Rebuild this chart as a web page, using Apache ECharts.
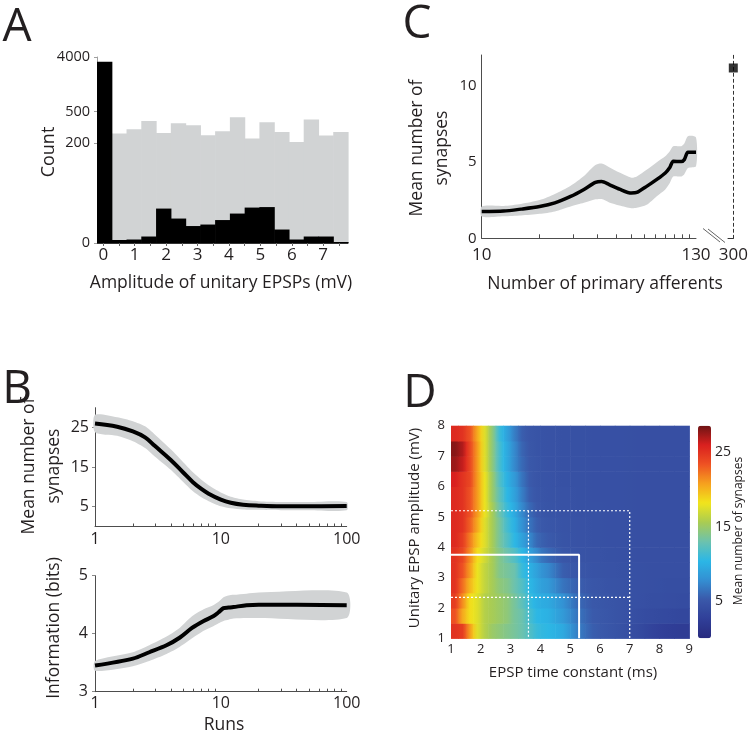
<!DOCTYPE html>
<html><head><meta charset="utf-8">
<script src="https://cdn.jsdelivr.net/npm/echarts@6/dist/echarts.min.js"></script>
<style>html,body{margin:0;padding:0;background:#fff}#c{width:750px;height:736px}</style>
</head><body><div id="c"></div>
<script>
// ---------- Panel A : histogram ----------
const ampBinEdges = [-0.2,0.27,0.74,1.21,1.68,2.15,2.62,3.09,3.56,4.03,4.5,4.97,5.44,5.91,6.38,6.85,7.32,7.79];
const countAllPairs = [290,292,332,411,297,389,370,276,314,446,244,399,307,212,425,273,307];
const countConnected = [3700,6,7,13,69,49,34,37,46,59,71,72,27,7,13,13,2];
const countTicks = [0,200,500,4000];
const countTickPos = [0,100,131.7,186.4]; // broken (piecewise) count scale
const ampTicks = [0,1,2,3,4,5,6,7];
const ampMinorTicks = [0,0.5,1,1.5,2,2.5,3,3.5,4,4.5,5,5.5,6,6.5,7,7.5];

// ---------- Panel B : runs ----------
const runsSyn = [1,1.5,2,2.5,3,4,5,6,7,8,10,12,15,20,30,50,100];
const synMean  = [26,25.2,24,22.5,20.3,16.8,13.7,11.2,9.5,8.3,6.8,6.0,5.5,5.25,5.1,5.1,5.15];
const synUpper = [28.2,27.6,26.6,25.3,23.2,19.5,16.3,13.7,11.8,10.4,8.6,7.5,6.8,6.4,6.2,6.2,6.2];
const synLower = [23.8,22.9,21.5,19.8,17.6,14.3,11.3,8.9,7.4,6.4,5.1,4.6,4.3,4.2,4.1,4.1,4.1];
const runsInfo = [1,2,2.7,3.7,4.7,5.9,7.3,8.7,9.6,10.5,11.5,12.6,16,20,100];
const infoMean  = [3.45,3.57,3.68,3.80,3.93,4.1,4.22,4.3,4.37,4.44,4.45,4.46,4.49,4.5,4.49];
const infoUpper = [3.53,3.68,3.8,3.95,4.1,4.3,4.42,4.49,4.55,4.63,4.66,4.67,4.69,4.71,4.71];
const infoLower = [3.36,3.44,3.53,3.65,3.77,3.92,4.05,4.13,4.18,4.22,4.24,4.26,4.27,4.27,4.27];
const runsTickLabels = [1,10,100];
const runsMinorTicks = [2,3,4,5,6,7,8,9,20,30,40,50,60,70,80,90];
const synTicks = [5,15,25];

// ---------- Panel C : afferents ----------
const afferents = [10,13,16,20,24,29,34,39,42,46,52,60,64,72,81,90,95,99,109,113,118,130];
const affMean  = [1.75,1.78,1.91,2.08,2.32,2.74,3.2,3.66,3.72,3.52,3.22,2.96,3.0,3.4,3.84,4.28,4.64,5.04,5.02,5.15,5.63,5.63];
const affUpper = [2.08,2.12,2.25,2.5,2.9,3.44,4.08,4.8,4.89,4.65,4.3,3.97,4.05,4.49,4.97,5.37,5.7,6.03,6.03,6.2,6.68,6.6];
const affLower = [1.42,1.44,1.49,1.6,1.76,2.08,2.32,2.55,2.57,2.35,2.15,1.97,2.0,2.19,2.74,3.2,3.62,4.05,4.05,4.2,4.6,4.71];
const affTickLabels = [10,130];
const affMinorTicks = [20,30,40,50,60,70,80,90,100,110,120];
const affSynTicks = [0,5,10];
const fullNetworkN = [300];
const fullNetworkSyn = [11.15];

// ---------- Panel D : heat map ----------
const tauEdges = [1,1.25,1.5,1.75,2,2.25,2.5,2.75,3,3.25,3.5,3.75,4,4.5,5,5.5,6,6.5,7,7.5,8,8.5,9];
const ampEdges = [1,1.5,2,2.5,3,3.5,4,4.5,5,5.5,6,6.5,7,7.5,8];
const synapseGrid = [ // rows from amplitude 1 (bottom) to 8 (top)
 [25,24.5,21,17.5,16,15,14.5,14,13.5,13,12,11,10.5,9.5,7,5.5,5,4.5,3.8,3,2.5,2.2],
 [23.5,20.5,18.5,17.5,16,15.5,15,14.5,13.5,13,11.5,10.5,10,8.5,6.5,5.3,5,4.6,4.2,3.8,3.6,3.4],
 [24.5,21.5,18.5,17.5,16,15.5,15,14.5,13.5,12.5,11,10,9.5,8,6,5.2,4.9,4.6,4.4,4.2,4.1,4],
 [25,22.5,20,18,16.5,15.5,14.5,14,13,12,10.5,9.5,8.5,6.5,5.5,5,4.7,4.6,4.4,4.3,4.2,4.2],
 [25,23.5,21,18,16.5,15.5,14,13.5,13,11,10,9,7.5,5.5,5,4.7,4.6,4.5,4.4,4.3,4.3,4.3],
 [25,24,21.5,18.5,17,15.5,14,13,12,10.5,9,7.5,6,5,4.7,4.6,4.5,4.4,4.3,4.3,4.3,4.3],
 [25.5,24.5,22,19.5,17.5,15.5,13.5,12,10.5,9,7.5,6,5.3,4.8,4.6,4.5,4.4,4.4,4.3,4.3,4.3,4.3],
 [25.5,25,23,20.5,17.5,15.5,13.5,11.5,10,8,6.5,5.5,5,4.7,4.6,4.5,4.4,4.4,4.3,4.3,4.3,4.3],
 [25.5,25,23.5,21,18,15.5,13,11,9.5,7.5,6,5.2,4.8,4.6,4.5,4.5,4.4,4.4,4.3,4.3,4.3,4.3],
 [25.5,25,23.5,21,18,15,12.5,10.5,9,7,5.5,5,4.7,4.6,4.5,4.4,4.4,4.4,4.3,4.3,4.3,4.3],
 [26,25,24,21,18,15,12,10,8.5,6.5,5.3,4.9,4.7,4.5,4.5,4.4,4.4,4.4,4.3,4.3,4.3,4.3],
 [27.5,26.5,24,21,17.5,14.5,11.5,9.5,7.5,6,5.2,4.9,4.6,4.5,4.5,4.4,4.4,4.4,4.3,4.3,4.3,4.3],
 [28,27,24,21,17.5,14.5,11.5,9.5,7.5,5.8,5.1,4.8,4.6,4.5,4.5,4.4,4.4,4.4,4.3,4.3,4.3,4.3],
 [25.5,25,23.5,20.5,17.5,14.5,11,9,7,5.5,5,4.8,4.6,4.5,4.5,4.4,4.4,4.4,4.3,4.3,4.3,4.3]
];
const tauTicks = [1,2,3,4,5,6,7,8,9];
const ampAxisTicks = [1,2,3,4,5,6,7,8];
const colorbarTicks = [5,15,25];
const colorbarMax = 28.6;
const solidBox = [[1,3.75],[5.3,3.75],[5.3,1]];
const dashedBoxOuter = [[1,5.2],[7,5.2],[7,1]];
const dashedLineH = [[1,2.35],[7,2.35]];
const dashedLineV = [[3.6,5.2],[3.6,1]];

// ---------- helpers ----------
const FONT = '"Open Sans", "DejaVu Sans", sans-serif';
const TXT = '#231f20';
const AX = '#4d4d4d';
const BAND = '#d1d3d4';
const jetColors = ['#282a7e','#303f98','#3a58a9','#348fd2','#2bb7e6','#6cc2ae','#a9cc52','#f1e51c','#f6a11e','#ee5223','#d9201f','#6e1414'];
const NCOL = tauEdges.length - 1;

function countToAxis(v){
  for (let i=1;i<countTicks.length;i++){
    if (v<=countTicks[i]) return countTickPos[i-1]+(v-countTicks[i-1])/(countTicks[i]-countTicks[i-1])*(countTickPos[i]-countTickPos[i-1]);
  }
  return countTickPos[countTickPos.length-1];
}
function countLabel(v){
  let best=0;
  countTickPos.forEach((p,i)=>{ if (Math.abs(p-v)<Math.abs(countTickPos[best]-v)) best=i; });
  return String(countTicks[best]);
}
const lg = Math.log10;
const pow10Label = v => String(Math.round(Math.pow(10, v)));
const cmap = v => echarts.color.lerp(Math.max(0, Math.min(1, v/colorbarMax)), jetColors);

function histItem(params, api){
  const a = api.coord([api.value(0), api.value(2)]);
  const b = api.coord([api.value(1), 0]);
  return {type:'rect', shape:{x:a[0], y:a[1], width:b[0]-a[0]+0.6, height:b[1]-a[1]}, style:{fill: api.visual('color')}};
}
function bandItem(params, api){
  if (params.dataIndexInside !== 0) return null;
  const n = params.dataInsideLength;
  const pts = [];
  for (let i=0;i<n;i++) pts.push(api.coord([api.value(0,i), api.value(2,i)]));
  for (let i=n-1;i>=0;i--) pts.push(api.coord([api.value(0,i), api.value(1,i)]));
  return {type:'polygon', shape:{points:pts, smooth:0.25}, style:{fill:BAND}};
}
function heatItem(params, api){
  const idx = params.dataIndexInside;
  const col = idx % NCOL;
  const v = api.value(4);
  const vl = col > 0 ? api.value(4, idx-1) : v;
  const vr = col < NCOL-1 ? api.value(4, idx+1) : v;
  const a = api.coord([api.value(0), api.value(3)]);
  const b = api.coord([api.value(1), api.value(2)]);
  return {type:'rect', shape:{x:a[0], y:a[1], width:b[0]-a[0]+0.6, height:b[1]-a[1]+0.6},
    style:{fill:{type:'linear', x:0, y:0, x2:1, y2:0, colorStops:[
      {offset:0, color:cmap((vl+v)/2)}, {offset:0.5, color:cmap(v)}, {offset:1, color:cmap((v+vr)/2)}]}}};
}

const histGray = countAllPairs.map((c,i)=>[ampBinEdges[i], ampBinEdges[i+1], countToAxis(c)]);
const histBlack = countConnected.map((c,i)=>[ampBinEdges[i], ampBinEdges[i+1], countToAxis(c)]);
const synBand = runsSyn.map((r,i)=>[lg(r), synLower[i], synUpper[i]]);
const synLine = runsSyn.map((r,i)=>[lg(r), synMean[i]]);
const infoBand = runsInfo.map((r,i)=>[lg(r), infoLower[i], infoUpper[i]]);
const infoLine = runsInfo.map((r,i)=>[lg(r), infoMean[i]]);
const affBand = afferents.map((a,i)=>[lg(a), affLower[i], affUpper[i]]);
const affLine = afferents.map((a,i)=>[lg(a), affMean[i]]);
const heatData = [];
synapseGrid.forEach((row,r)=>row.forEach((v,c)=>heatData.push([tauEdges[c], tauEdges[c+1], ampEdges[r], ampEdges[r+1], v])));

const noSplit = {show:false};
const lbl = (size, extra) => Object.assign({fontSize:size, color:TXT, fontFamily:FONT}, extra||{});
const axLine = (extra) => Object.assign({show:true, onZero:false, lineStyle:{color:AX, width:1}}, extra||{});

function text(str, x, y, size, rot, lh){
  return {type:'text', x:x, y:y, rotation: rot ? Math.PI/2 : 0, silent:true,
    style:{text:str, fontSize:size, fontFamily:FONT, fill:TXT, align:'center', verticalAlign:'middle', lineHeight: lh || Math.round(size*1.3)}};
}

const grids = [
  {left:97, top:57, width:251, height:186},      // A
  {left:95, top:407.7, width:251.7, height:118.8}, // B top
  {left:95, top:575.7, width:251.7, height:116},   // B bottom
  {left:481.7, top:55, width:214.3, height:183.3}, // C
  {left:728, top:55, width:5.3, height:183.3},    // C (300)
  {left:451, top:425.7, width:238.3, height:212.6}, // D
  {left:698, top:425.7, width:13, height:212.6}     // colorbar
].map(g=>Object.assign({containLabel:false, outerBoundsMode:'none'}, g));

const option = {
  animation:false,
  backgroundColor:'#ffffff',
  textStyle:{fontFamily:FONT},
  grid: grids,
  xAxis: [
    {gridIndex:0, type:'value', min:-0.2, max:7.79, splitLine:noSplit, axisLine:axLine({lineStyle:{color:'#333'}}),
     axisTick:{show:true, customValues:ampMinorTicks, length:3, lineStyle:{color:'#666'}},
     axisLabel:lbl(17,{customValues:ampTicks, margin:4})},
    {gridIndex:1, type:'value', min:0, max:2, splitLine:noSplit, axisLine:axLine(),
     axisTick:{show:true, inside:true, length:3, customValues:runsMinorTicks.map(lg), lineStyle:{color:AX}},
     axisLabel:lbl(16,{customValues:runsTickLabels.map(lg), formatter:pow10Label, margin:5})},
    {gridIndex:2, type:'value', min:0, max:2, splitLine:noSplit, axisLine:axLine(),
     axisTick:{show:true, inside:true, length:3, customValues:runsMinorTicks.map(lg), lineStyle:{color:AX}},
     axisLabel:lbl(16,{customValues:runsTickLabels.map(lg), formatter:pow10Label, margin:4})},
    {gridIndex:3, type:'value', min:lg(10), max:lg(130), splitLine:noSplit, axisLine:axLine(),
     axisTick:{show:true, inside:true, length:4, customValues:affMinorTicks.map(lg), lineStyle:{color:AX}},
     axisLabel:lbl(17,{customValues:affTickLabels.map(lg), formatter:pow10Label, margin:8})},
    {gridIndex:4, type:'value', min:295, max:300, splitLine:noSplit, axisLine:axLine({lineStyle:{color:'#333'}}),
     axisTick:{show:false}, axisLabel:lbl(17,{customValues:fullNetworkN, margin:8})},
    {gridIndex:5, type:'value', min:1, max:9, interval:1, splitLine:noSplit, axisLine:{show:false}, axisTick:{show:false},
     axisLabel:lbl(13,{margin:4})},
    {gridIndex:6, type:'value', min:0, max:1, show:false}
  ],
  yAxis: [
    {gridIndex:0, type:'value', min:0, max:countTickPos[3], splitLine:noSplit, axisLine:axLine({lineStyle:{color:'#a0a0a0'}}),
     axisTick:{show:true, customValues:countTickPos, length:3, lineStyle:{color:'#a0a0a0'}},
     axisLabel:lbl(14.5,{customValues:countTickPos, formatter:countLabel, margin:7})},
    {gridIndex:1, type:'value', min:0, max:30, splitLine:noSplit, axisLine:axLine(),
     axisTick:{show:true, customValues:synTicks, length:3, lineStyle:{color:'#888'}},
     axisLabel:lbl(16,{customValues:synTicks, margin:6})},
    {gridIndex:2, type:'value', min:3, max:5, interval:1, splitLine:noSplit, axisLine:axLine(),
     axisTick:{show:true, length:3, lineStyle:{color:'#888'}},
     axisLabel:lbl(16,{margin:7})},
    {gridIndex:3, type:'value', min:0, max:12, splitLine:noSplit, axisLine:axLine(),
     axisTick:{show:false}, axisLabel:lbl(15,{customValues:affSynTicks, margin:5})},
    {gridIndex:4, type:'value', min:0, max:12, position:'right', splitLine:noSplit,
     axisLine:{show:true, lineStyle:{color:'#333', type:[3,3], width:1}}, axisTick:{show:false}, axisLabel:{show:false}},
    {gridIndex:5, type:'value', min:1, max:8, interval:1, splitLine:noSplit, axisLine:{show:false}, axisTick:{show:false},
     axisLabel:lbl(13,{margin:6})},
    {gridIndex:6, type:'value', min:0, max:colorbarMax, position:'right', splitLine:noSplit, axisLine:{show:false},
     axisTick:{show:false}, axisLabel:lbl(14,{customValues:colorbarTicks, margin:4})}
  ],
  visualMap: [{type:'continuous', seriesIndex:12, dimension:4, min:0, max:colorbarMax,
    left:698, top:425.7, itemWidth:13, itemHeight:212.6, padding:0, calculable:false, hoverLink:false,
    inRange:{color:jetColors}}],
  series: [
    {type:'custom', xAxisIndex:0, yAxisIndex:0, renderItem:histItem, data:histGray, encode:{x:[0,1], y:2}, itemStyle:{color:'#d1d3d4'}, silent:true},
    {type:'custom', xAxisIndex:0, yAxisIndex:0, renderItem:histItem, data:histBlack, encode:{x:[0,1], y:2}, itemStyle:{color:'#000'}, silent:true, z:3},

    {type:'custom', xAxisIndex:1, yAxisIndex:1, renderItem:bandItem, data:synBand, encode:{x:0, y:[1,2]}, silent:true},
    {type:'line', xAxisIndex:1, yAxisIndex:1, data:synLine, symbol:'none', smooth:0.4, lineStyle:{color:'#000', width:4}, silent:true, z:4},
    {type:'line', xAxisIndex:1, yAxisIndex:1, data:[], silent:true},

    {type:'custom', xAxisIndex:2, yAxisIndex:2, renderItem:bandItem, data:infoBand, encode:{x:0, y:[1,2]}, silent:true},
    {type:'line', xAxisIndex:2, yAxisIndex:2, data:infoLine, symbol:'none', smooth:0.3, lineStyle:{color:'#000', width:4}, silent:true, z:4},
    {type:'line', xAxisIndex:2, yAxisIndex:2, data:[], silent:true},

    {type:'custom', xAxisIndex:3, yAxisIndex:3, renderItem:bandItem, data:affBand, encode:{x:0, y:[1,2]}, silent:true},
    {type:'line', xAxisIndex:3, yAxisIndex:3, data:affLine, symbol:'none', smooth:0.25, lineStyle:{color:'#000', width:3.5}, silent:true, z:4},
    {type:'line', xAxisIndex:3, yAxisIndex:3, data:[], silent:true},

    {type:'scatter', xAxisIndex:4, yAxisIndex:4, data:fullNetworkN.map((n,i)=>[n, fullNetworkSyn[i]]), symbol:'rect', symbolSize:9, itemStyle:{color:'#000'}, clip:false, silent:true, z:5},

    {type:'custom', xAxisIndex:5, yAxisIndex:5, renderItem:heatItem, data:heatData, encode:{x:[0,1], y:[2,3]}, silent:true},
    {type:'line', xAxisIndex:5, yAxisIndex:5, data:solidBox, symbol:'none', lineStyle:{color:'#fff', width:2}, silent:true, z:6},
    {type:'line', xAxisIndex:5, yAxisIndex:5, data:dashedBoxOuter, symbol:'none', lineStyle:{color:'#fff', width:1.2, type:[2,2]}, silent:true, z:6},
    {type:'line', xAxisIndex:5, yAxisIndex:5, data:dashedLineH, symbol:'none', lineStyle:{color:'#fff', width:1.2, type:[2,2]}, silent:true, z:6},
    {type:'line', xAxisIndex:5, yAxisIndex:5, data:dashedLineV, symbol:'none', lineStyle:{color:'#fff', width:1.2, type:[2,2]}, silent:true, z:6}
  ],
  graphic: [
    text('A', 17, 28, 46),
    text('B', 17, 390, 46),
    text('C', 417, 25, 46),
    text('D', 420, 394, 46),
    text('Amplitude of unitary EPSPs (mV)', 221, 283, 17.5),
    text('Count', 49, 152, 18, true),
    text('Mean number of\nsynapses', 42, 466, 17.5, true, 25),
    text('Information (bits)', 54, 628, 17.5, true),
    text('Runs', 224, 725, 17.5),
    text('Mean number of\nsynapses', 430, 148, 17.5, true, 25),
    text('Number of primary afferents', 605, 284, 17.5),
    text('Unitary EPSP amplitude (mV)', 415, 528, 15, true),
    text('EPSP time constant (ms)', 573, 673, 15),
    text('Mean number of synapses', 739, 531, 12, true),
    {type:'line', silent:true, shape:{x1:703, y1:228.5, x2:720, y2:242}, style:{stroke:'#666', lineWidth:1}},
    {type:'line', silent:true, shape:{x1:708, y1:229, x2:725, y2:242.5}, style:{stroke:'#666', lineWidth:1}}
  ]
};
const chart = echarts.init(document.getElementById('c'), null, {width:750, height:736});
chart.setOption(option);
</script>
</body></html>
